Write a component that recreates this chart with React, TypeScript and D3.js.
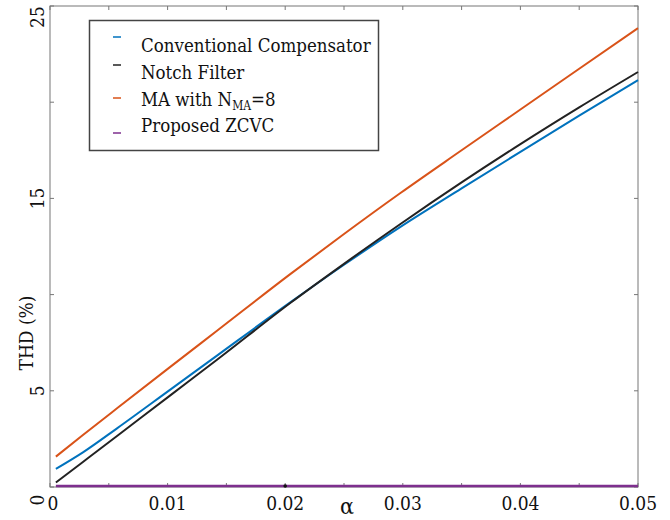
import React from "react";
import * as d3 from "d3";

// alpha values sampled along the curves
const alpha = [0.0005, 0.0028, 0.0057, 0.0102, 0.0142, 0.0204, 0.025, 0.0298, 0.035, 0.04, 0.045, 0.05];
const conventional = [0.94, 1.8, 3.05, 5.05, 6.83, 9.58, 11.55, 13.52, 15.52, 17.42, 19.3, 21.15];
const notch = [0.23, 1.3, 2.65, 4.75, 6.61, 9.55, 11.6, 13.67, 15.83, 17.82, 19.73, 21.57];
const movingAvg = [1.58, 2.7, 4.09, 6.23, 8.12, 11.05, 13.15, 15.28, 17.5, 19.62, 21.74, 23.85];
const zcvc = [0.05, 0.05, 0.05, 0.05, 0.05, 0.05, 0.05, 0.05, 0.05, 0.05, 0.05, 0.05];

const xTickLabels = [0, 0.01, 0.02, 0.03, 0.04, 0.05];
const yTickLabels = [0, 5, 15, 25];

const seriesNames = ["Conventional Compensator", "Notch Filter", "MA with N", "Proposed ZCVC"];
const colors = ["#0072BD", "#222222", "#D95319", "#7E2F8E"];

const FONT = "'DejaVu Serif', serif";

export default function App() {
  const x = d3.scaleLinear().domain([0, 0.05]).range([50, 638]);
  const y = d3.scaleLinear().domain([0, 25]).range([487, 6]);

  const line = d3
    .line<number>()
    .x((_, i) => x(alpha[i]))
    .y((d) => y(d))
    .curve(d3.curveMonotoneX);

  const series = [conventional, notch, movingAvg, zcvc];
  const xt = x.ticks(10);
  const yt = y.ticks(5);
  const axisColor = "#777";
  const txt = { fontFamily: FONT, fontStretch: "condensed" };

  // y label offsets (labels near the corners are pushed inward)
  const yLabelShift = (v: number) => (v === 25 ? 11 : v === 0 ? 13 : 0);

  return (
    <svg width={670} height={520} style={{ position: "absolute", left: 0, top: 0, background: "#fff" }}>
      {/* plot box */}
      <rect x={50} y={6} width={588} height={481} fill="none" stroke={axisColor} strokeWidth={1} />

      {/* ticks, bottom and top */}
      {xt.map((t) => (
        <g key={"xt" + t}>
          <line x1={x(t)} x2={x(t)} y1={487} y2={483} stroke={axisColor} />
          <line x1={x(t)} x2={x(t)} y1={6} y2={10} stroke={axisColor} />
        </g>
      ))}
      {/* ticks, left and right */}
      {yt.map((t) => (
        <g key={"yt" + t}>
          <line x1={50} x2={54} y1={y(t)} y2={y(t)} stroke={axisColor} />
          <line x1={638} x2={634} y1={y(t)} y2={y(t)} stroke={axisColor} />
        </g>
      ))}

      {/* curves */}
      {series.map((s, i) => (
        <path
          key={"s" + i}
          d={line(s) || ""}
          fill="none"
          stroke={colors[i]}
          strokeWidth={i === 3 ? 2.5 : 2}
        />
      ))}
      <circle cx={x(0.02)} cy={y(0.05)} r={1.8} fill="#111" />

      {/* x tick labels */}
      {xTickLabels.map((t) => (
        <text
          key={"xl" + t}
          x={x(t) + (t === 0 ? 3 : 0)}
          y={510}
          textAnchor="middle"
          style={txt}
          fontSize={19}
          fill="#111"
        >
          {String(t)}
        </text>
      ))}
      <text x={347} y={514} textAnchor="middle" style={txt} fontSize={23} fill="#111">
        α
      </text>

      {/* y tick labels, rotated */}
      {yTickLabels.map((t) => (
        <text
          key={"yl" + t}
          transform={`translate(44, ${y(t) + yLabelShift(t)}) rotate(-90)`}
          textAnchor="middle"
          style={txt}
          fontSize={19}
          fill="#111"
        >
          {String(t)}
        </text>
      ))}
      <text
        transform="translate(33, 333) rotate(-90)"
        textAnchor="middle"
        style={txt}
        fontSize={19}
        fill="#111"
      >
        THD (%)
      </text>

      {/* legend */}
      <rect x={89.5} y={20.5} width={289} height={130} fill="#fff" stroke="#444" strokeWidth={1.5} />
      {seriesNames.map((name, i) => {
        const base = [52, 78.5, 106, 132][i];
        const dashY = [37, 65, 98, 133][i];
        return (
          <g key={"lg" + i}>
            <line x1={113} x2={121} y1={dashY} y2={dashY} stroke={colors[i]} strokeWidth={1.5} />
            <text x={141} y={base} style={txt} fontSize={18.5} fill="#111">
              {name}
              {i === 2 && (
                <>
                  <tspan fontSize={12} dy={4}>MA</tspan>
                  <tspan dy={-4}>=8</tspan>
                </>
              )}
            </text>
          </g>
        );
      })}
    </svg>
  );
}
